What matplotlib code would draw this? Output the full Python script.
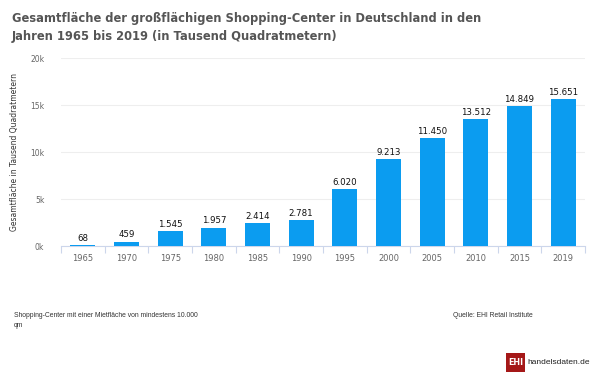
import matplotlib
matplotlib.use("Agg")
import matplotlib.pyplot as plt
from matplotlib.patches import Rectangle

years = ["1965", "1970", "1975", "1980", "1985", "1990", "1995", "2000", "2005", "2010", "2015", "2019"]
values = [68, 459, 1545, 1957, 2414, 2781, 6020, 9213, 11450, 13512, 14849, 15651]
labels = ["68", "459", "1.545", "1.957", "2.414", "2.781", "6.020", "9.213", "11.450", "13.512", "14.849", "15.651"]
yticks = [0, 5000, 10000, 15000, 20000]
yticklabels = ["0k", "5k", "10k", "15k", "20k"]

W, H = 600, 377
fig = plt.figure(figsize=(W / 100, H / 100), dpi=100)
ax = fig.add_axes([61 / W, 1 - 246 / H, (585 - 61) / W, (246 - 58) / H])

x = list(range(len(years)))
ax.bar(x, values, width=0.58, color="#0b9cf0", zorder=3)
for xi, v, lab in zip(x, values, labels):
    ax.text(xi, v + 250, lab, ha="center", va="bottom", fontsize=6.2, color="#111111", zorder=4)

ax.set_xlim(-0.5, len(years) - 0.5)
ax.set_ylim(0, 20000)
ax.set_yticks(yticks)
ax.set_yticklabels(yticklabels, fontsize=5.5, color="#666666")
ax.set_xticks(x)
ax.set_xticklabels(years, fontsize=6, color="#666666")
ax.tick_params(axis="y", length=0, pad=12)
ax.tick_params(axis="x", length=0, pad=6)
ax.set_xticks([i + 0.5 for i in range(-1, len(years))], minor=True)
ax.tick_params(axis="x", which="minor", length=5, color="#ccd6eb", width=0.8)
ax.grid(axis="y", color="#eeeeee", linewidth=0.8, zorder=0)
for s in ["top", "right", "left"]:
    ax.spines[s].set_visible(False)
ax.spines["bottom"].set_color("#ccd6eb")
ax.spines["bottom"].set_linewidth(0.8)
ax.set_ylabel("Gesamtfläche in Tausend Quadratmetern", fontsize=5.5, color="#333333")
ax.yaxis.set_label_coords(-42 / (585 - 61), 0.5)

fig.text(12 / W, 1 - 27.5 / H, "Gesamtfläche der großflächigen Shopping-Center in Deutschland in den\nJahren 1965 bis 2019 (in Tausend Quadratmetern)",
         fontsize=8.3, fontweight="bold", color="#555555", ha="left", va="center", linespacing=1.55)

fig.text(14 / W, 1 - 312 / H, "Shopping-Center mit einer Mietfläche von mindestens 10.000\nqm",
         fontsize=4.9, color="#333333", ha="left", va="top", family="Liberation Sans", linespacing=1.55)
fig.text(453 / W, 1 - 312 / H, "Quelle: EHI Retail Institute",
         fontsize=4.9, color="#333333", ha="left", va="top", family="Liberation Sans")

fig.patches.append(Rectangle((506 / W, 1 - 372 / H), 19 / W, 19 / H, transform=fig.transFigure,
                             facecolor="#a51818", edgecolor="none"))
fig.text(515.5 / W, 1 - 362.5 / H, "EHI", fontsize=5.8, color="white", ha="center", va="center", fontweight="bold")
fig.text(527.5 / W, 1 - 362.5 / H, "handelsdaten.de", fontsize=6.0, color="#222222", ha="left", va="center",
         family="Liberation Sans")

fig.savefig("out.png", dpi=100, facecolor="white")
